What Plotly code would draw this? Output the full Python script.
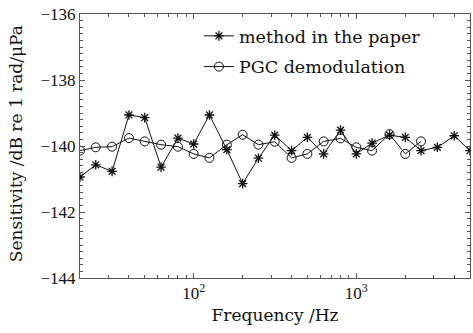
import plotly.graph_objects as go

freq = [20, 25, 31.5, 40, 50, 63, 80, 100, 125, 160, 200, 250, 315, 400, 500,
        630, 800, 1000, 1250, 1600, 2000, 2500, 3150, 4000, 5000]
method_vals = [-140.94, -140.57, -140.77, -139.06, -139.14, -140.64, -139.76, -139.94,
               -139.06, -140.11, -141.14, -140.37, -139.67, -140.14, -139.74, -140.24,
               -139.52, -140.24, -139.91, -139.67, -139.74, -140.14, -140.04, -139.69, -140.14]
freq_pgc = freq[:22]
pgc_vals = [-140.14, -140.04, -140.02, -139.76, -139.86, -139.96, -140.02, -140.24,
            -140.36, -139.96, -139.66, -139.96, -139.87, -140.36, -140.24, -139.86,
            -139.77, -140.04, -140.14, -139.64, -140.24, -139.86]

x_major = [100, 1000]
x_major_text = ["10<sup>2</sup>", "10<sup>3</sup>"]
x_minor = [20, 30, 40, 50, 60, 70, 80, 90, 200, 300, 400, 500, 600, 700, 800, 900,
           2000, 3000, 4000, 5000]
y_ticks = [-144, -142, -140, -138, -136]

TICKFONT = "Liberation Serif, Times New Roman, serif"
TEXTFONT = "DejaVu Serif, Liberation Serif, serif"
INK = "#111111"
AX = "#555555"

fig = go.Figure()
fig.add_trace(go.Scatter(
    x=freq, y=method_vals, mode="lines+markers", name="method in the paper",
    legendgroup="a",
    line=dict(color=INK, width=1),
    marker=dict(symbol="asterisk-open", size=8, color=INK,
                line=dict(color=INK, width=1.3)),
))
fig.add_trace(go.Scatter(
    x=freq_pgc, y=pgc_vals, mode="lines+markers", name="PGC demodulation",
    legendgroup="b",
    line=dict(color=INK, width=1),
    marker=dict(symbol="circle-open", size=9, color=INK,
                line=dict(color=INK, width=1)),
))

axis_common = dict(
    showline=True, linecolor=AX, linewidth=1, mirror="ticks",
    ticks="inside", ticklen=5, tickcolor=AX, showgrid=False, zeroline=False,
    tickfont=dict(family=TICKFONT, size=17, color=INK),
)

fig.update_xaxes(
    type="log", range=[1.30103, 3.69897],
    tickmode="array", tickvals=x_major, ticktext=x_major_text,
    minor=dict(tickmode="array", tickvals=x_minor, ticks="inside", ticklen=3,
               tickcolor=AX, showgrid=False),
    title=dict(text="Frequency /Hz", font=dict(family=TEXTFONT, size=17, color=INK),
               standoff=6),
    **axis_common,
)
fig.update_yaxes(
    range=[-144, -136], tickmode="array", tickvals=y_ticks,
    minor=dict(dtick=0.2, ticks="inside", ticklen=3, tickcolor=AX, showgrid=False),
    **axis_common,
)

fig.add_annotation(
    text="Sensitivity /dB re 1 rad/μPa", textangle=-90,
    xref="paper", yref="paper", x=-0.162, y=0.51,
    xanchor="center", yanchor="middle", showarrow=False,
    font=dict(family=TEXTFONT, size=17, color=INK),
)

fig.update_layout(
    width=473, height=333,
    margin=dict(l=80, r=3, t=14, b=55),
    paper_bgcolor="white", plot_bgcolor="white",
    font=dict(family=TEXTFONT, color=INK),
    showlegend=True,
    legend=dict(x=0.305, y=0.985, xanchor="left", yanchor="top",
                bgcolor="rgba(0,0,0,0)", borderwidth=0,
                font=dict(family=TEXTFONT, size=17.5, color=INK),
                traceorder="grouped", tracegroupgap=5, itemwidth=30),
)

fig.write_html("out.html")
